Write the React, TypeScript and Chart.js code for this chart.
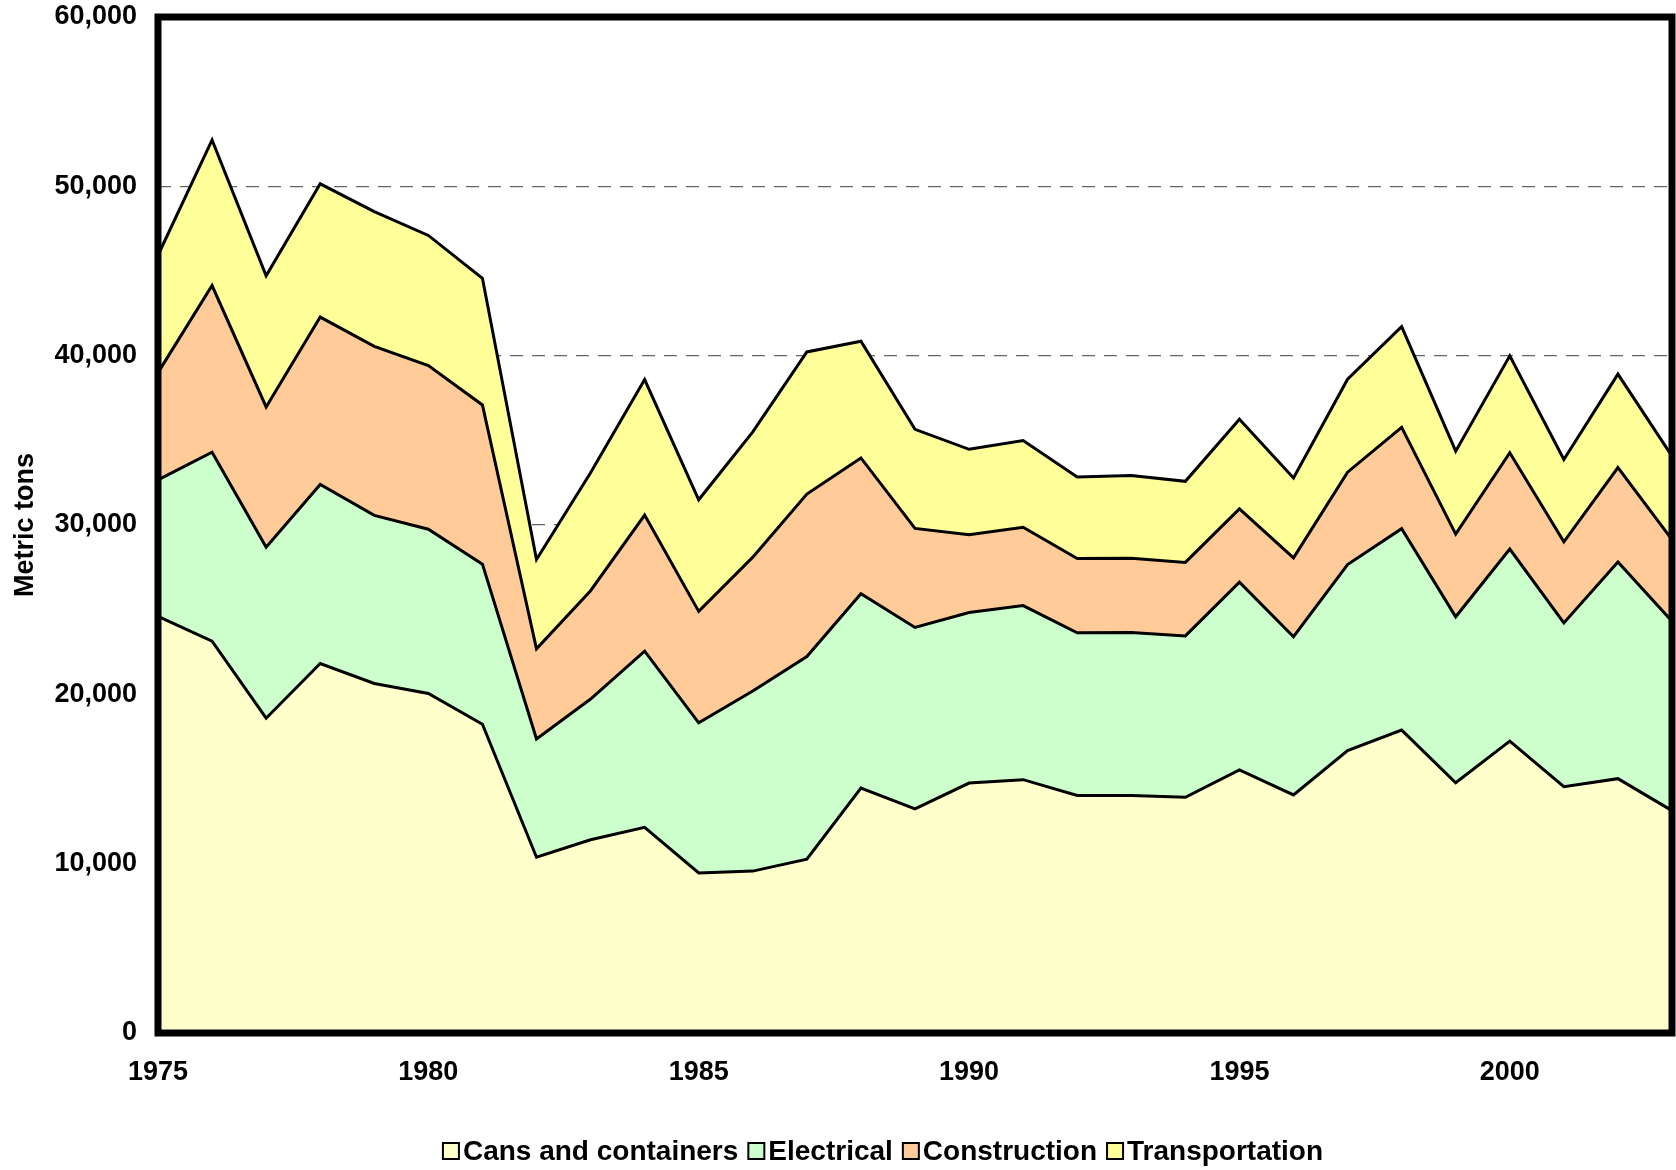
import React, { useEffect, useRef } from "react";
import { Chart, registerables } from "chart.js";

Chart.register(...registerables);

const years = ["1975","1976","1977","1978","1979","1980","1981","1982","1983","1984","1985","1986","1987","1988","1989","1990","1991","1992","1993","1994","1995","1996","1997","1998","1999","2000","2001","2002","2003"];

const cans = [24610, 23140, 18590, 21820, 20640, 20050, 18230, 10380, 11410, 12150, 9450, 9560, 10260, 14460, 13240, 14760, 14960, 14030, 14030, 13920, 15540, 14060, 16680, 17890, 14780, 17240, 14550, 15020, 13130];
const electrical = [8050, 11160, 10100, 10570, 9930, 9700, 9460, 6980, 8310, 10400, 8870, 10640, 11970, 11480, 10710, 10070, 10280, 9600, 9620, 9530, 11080, 9340, 10980, 11890, 9800, 11340, 9670, 12800, 11180];
const construction = [6340, 9840, 8280, 9890, 9980, 9660, 9400, 5330, 6400, 8040, 6580, 7900, 9600, 8020, 5850, 4590, 4630, 4390, 4390, 4340, 4330, 4660, 5460, 5990, 4880, 5690, 4790, 5570, 4830];
const transportation = [6930, 8600, 7750, 7870, 7960, 7690, 7480, 5270, 6960, 8000, 6590, 7400, 8390, 6890, 5850, 5050, 5120, 4810, 4880, 4790, 5290, 4720, 5490, 5940, 4900, 5720, 4860, 5520, 4930];

const seriesNames = ["Cans and containers", "Electrical", "Construction", "Transportation"];
const seriesColors = ["#FFFFCC", "#CCFFCC", "#FFCC99", "#FFFF99"];
const yTicks = [0, 10000, 20000, 30000, 40000, 50000, 60000];

const FONT = "'Liberation Sans', Arial, Helvetica, sans-serif";

const framePlugin = {
  id: "frame",
  afterDatasetsDraw(chart: any) {
    const { ctx, chartArea } = chart;
    ctx.save();
    ctx.strokeStyle = "#000";
    ctx.lineWidth = 7;
    ctx.strokeRect(chartArea.left, chartArea.top, chartArea.right - chartArea.left, chartArea.bottom - chartArea.top);
    ctx.restore();
  },
};

const legendPlugin = {
  id: "customLegend",
  afterDraw(chart: any) {
    const { ctx } = chart;
    const ds = chart.data.datasets;
    ctx.save();
    ctx.font = `bold 28px ${FONT}`;
    ctx.textBaseline = "middle";
    ctx.textAlign = "left";
    const box = 16;
    const gap = 4;
    const itemGap = 10;
    const widths = ds.map((d: any) => box + gap + ctx.measureText(d.label).width);
    const total = widths.reduce((a: number, b: number) => a + b, 0) + itemGap * (ds.length - 1);
    let x = 883 - total / 2;
    const cy = 1151;
    ds.forEach((d: any, i: number) => {
      ctx.fillStyle = d.backgroundColor;
      ctx.fillRect(x, cy - box / 2, box, box);
      ctx.strokeStyle = "#000";
      ctx.lineWidth = 2;
      ctx.strokeRect(x, cy - box / 2, box, box);
      ctx.fillStyle = "#000";
      ctx.fillText(d.label, x + box + gap, cy + 1);
      x += widths[i] + itemGap;
    });
    ctx.restore();
  },
};

export default function App() {
  const ref = useRef<HTMLCanvasElement | null>(null);

  useEffect(() => {
    if (!ref.current) return;
    const values = [cans, electrical, construction, transportation];
    const chart = new Chart(ref.current, {
      type: "line",
      data: {
        labels: years,
        datasets: values.map((v, i) => ({
          label: seriesNames[i],
          data: v,
          backgroundColor: seriesColors[i],
          borderColor: "#000",
          borderWidth: 3,
          pointRadius: 0,
          tension: 0,
          fill: i === 0 ? "origin" : "-1",
        })),
      },
      options: {
        animation: false,
        responsive: false,
        devicePixelRatio: 1,
        layout: { padding: { top: 17, left: 0, right: 4, bottom: 0 } },
        plugins: {
          legend: { display: false },
          tooltip: { enabled: false },
          title: { display: false },
        },
        scales: {
          x: {
            type: "category",
            offset: false,
            grid: { display: false, drawTicks: false },
            border: { display: false },
            ticks: {
              autoSkip: false,
              maxRotation: 0,
              padding: 23,
              color: "#000",
              font: { family: FONT, size: 27, weight: "bold" },
              callback: function (this: any, val: any) {
                const lab = years[val as number];
                return Number(lab) % 5 === 0 ? lab : "";
              },
            },
            afterFit: (scale: any) => {
              scale.height = 137;
              scale.paddingLeft = 0;
              scale.paddingRight = 0;
            },
          },
          y: {
            stacked: true,
            min: 0,
            max: 60000,
            afterBuildTicks: (scale: any) => {
              scale.ticks = yTicks.map((v) => ({ value: v }));
            },
            grid: {
              drawTicks: false,
              color: "#666",
              lineWidth: 1.3,
            },
            border: { display: false, dash: [13, 9] },
            ticks: {
              padding: 21,
              color: "#000",
              font: { family: FONT, size: 27, weight: "bold" },
              callback: (v: any) => Number(v).toLocaleString("en-US"),
            },
            title: {
              display: true,
              text: "Metric tons",
              color: "#000",
              font: { family: FONT, size: 27, weight: "bold" },
              padding: { top: 9, bottom: 0 },
            },
            afterFit: (scale: any) => {
              scale.width = 158;
              scale.paddingTop = 0;
              scale.paddingBottom = 0;
            },
          },
        },
      },
      plugins: [framePlugin, legendPlugin],
    } as any);
    return () => chart.destroy();
  }, []);

  return (
    <div style={{ position: "fixed", left: 0, top: 0, width: 1676, height: 1170, background: "#fff" }}>
      <canvas ref={ref} width={1676} height={1170} style={{ display: "block", width: 1676, height: 1170 }} />
    </div>
  );
}
